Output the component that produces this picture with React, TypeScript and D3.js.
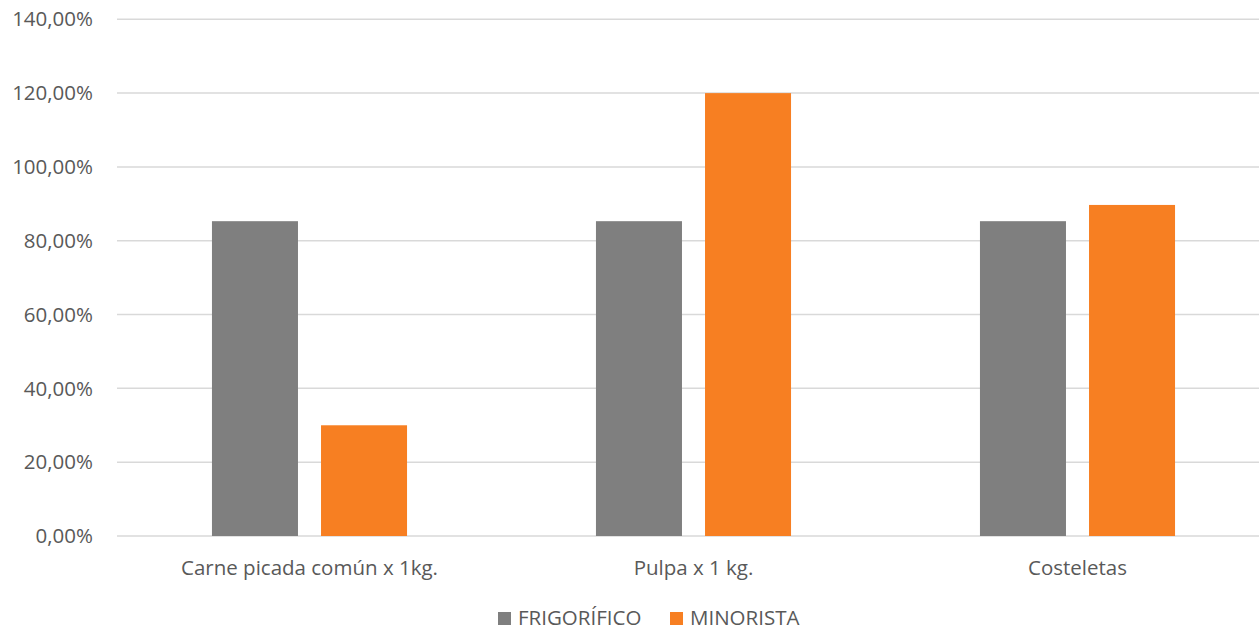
import React from "react";
import * as d3 from "d3";

const categories = ["Carne picada común x 1kg.", "Pulpa x 1 kg.", "Costeletas"];
const frigorifico = [85.3, 85.3, 85.3];
const minorista = [30.0, 120.0, 89.7];
const seriesNames = ["FRIGORÍFICO", "MINORISTA"];
const seriesColors = ["#7f7f7f", "#f77f22"];
const yTicks = [0, 20, 40, 60, 80, 100, 120, 140];

const W = 1259;
const H = 630;
const FONT = "'Open Sans', Lato, sans-serif";
const FS = 20.5;

export default function App() {
  const x = d3.scaleBand<string>().domain(categories).range([117.5, 1269.5]).paddingInner(0).paddingOuter(0);
  const y = d3.scaleLinear().domain([0, 140]).range([536, 19.3]);
  const barW = x.bandwidth() * 0.224;
  const gap = x.bandwidth() * 0.06;
  const fmt = (v: number) => v.toFixed(2).replace(".", ",") + "%";
  const series = [frigorifico, minorista];

  return (
    <svg width={W} height={H} style={{ position: "absolute", left: 0, top: 0, background: "#fff" }} fontFamily={FONT}>
      <rect x={0} y={0} width={W} height={H} fill="#fff" />
      {yTicks.map((t) => (
        <g key={t}>
          <line x1={117} x2={W} y1={y(t)} y2={y(t)} stroke="#d9d9d9" strokeWidth={1.5} />
          <text x={93} y={y(t)} dy="0.35em" textAnchor="end" fontSize={FS} fill="#595959">
            {fmt(t)}
          </text>
        </g>
      ))}
      {categories.map((c, i) => {
        const cx = (x(c) as number) + x.bandwidth() / 2;
        return (
          <g key={c}>
            {series.map((s, j) => {
              const bx = j === 0 ? cx - gap / 2 - barW : cx + gap / 2;
              return (
                <rect key={j} x={bx} y={y(s[i])} width={barW} height={y(0) - y(s[i])} fill={seriesColors[j]} />
              );
            })}
            <text x={cx} y={568} dy="0.35em" textAnchor="middle" fontSize={FS} fill="#595959">
              {c}
            </text>
          </g>
        );
      })}
      <g>
        <rect x={498} y={612} width={13} height={13} fill={seriesColors[0]} />
        <text x={518} y={625} fontSize={FS} fill="#595959">{seriesNames[0]}</text>
        <rect x={670} y={612} width={13} height={13} fill={seriesColors[1]} />
        <text x={690} y={625} fontSize={FS} fill="#595959">{seriesNames[1]}</text>
      </g>
    </svg>
  );
}
